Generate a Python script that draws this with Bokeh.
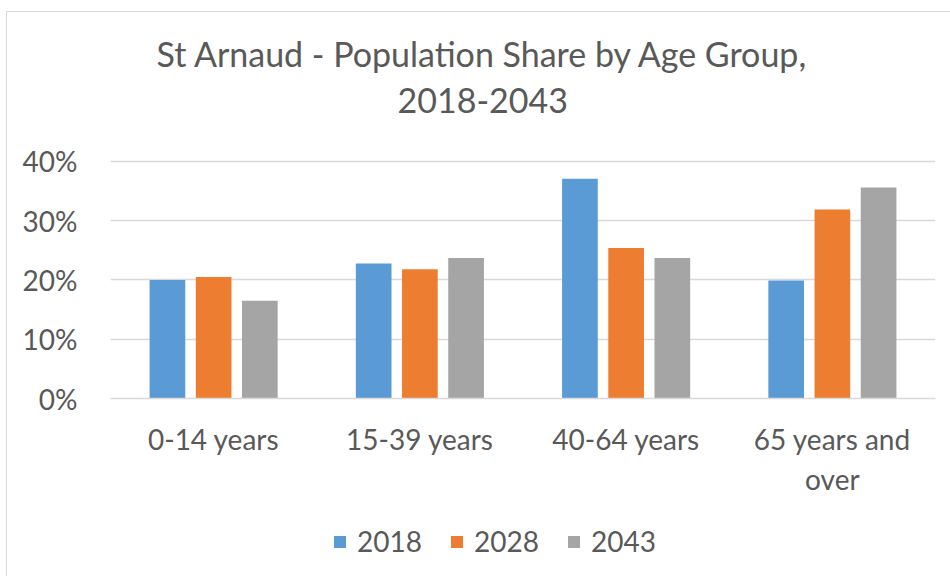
from bokeh.plotting import figure
from bokeh.layouts import column
from bokeh.models import (ColumnDataSource, Range1d, Legend, LegendItem, Title,
                          CategoricalAxis, NumeralTickFormatter, SingleIntervalTicker,
                          CustomJSTickFormatter)
from bokeh.transform import dodge
from bokeh.embed import file_html
from bokeh.resources import INLINE

# ---- data ----
categories = ["0-14 years", "15-39 years", "40-64 years", "65 years and over"]
wrapped_label = ["65 years and over", "65 years and", "over"]   # full, line 1, line 2
years = ["2018", "2028", "2043"]
share_2018 = [0.200, 0.228, 0.371, 0.199]
share_2028 = [0.205, 0.218, 0.254, 0.319]
share_2043 = [0.165, 0.237, 0.237, 0.356]
title_lines = ["St Arnaud - Population Share by Age Group,", "2018-2043"]

colors = ["#5B9BD5", "#ED7D31", "#A5A5A5"]
FONT = "Lato"
TXT = "#595959"
GRID = "#D9D9D9"

source = ColumnDataSource(dict(cat=categories, y2018=share_2018,
                               y2028=share_2028, y2043=share_2043))

# ---------------- main chart ----------------
p = figure(x_range=categories, y_range=Range1d(0, 0.4658),
           width=943, height=500, output_backend="svg", toolbar_location=None,
           min_border_left=103, min_border_right=15,
           min_border_top=110, min_border_bottom=114)
p.outline_line_color = None
p.background_fill_color = "white"
p.border_fill_color = "white"

for col, off, c in zip(["y2018", "y2028", "y2043"], [-0.224, 0.0, 0.224], colors):
    p.vbar(x=dodge("cat", off, range=p.x_range), top=col, width=0.173,
           source=source, fill_color=c, line_color=None)

p.yaxis.ticker = SingleIntervalTicker(interval=0.1)
p.yaxis.formatter = NumeralTickFormatter(format="0%")
p.yaxis.axis_line_color = None
p.yaxis.major_tick_line_color = None
p.yaxis.minor_tick_line_color = None
p.yaxis.major_label_standoff = 27
p.yaxis.major_label_text_font = FONT
p.yaxis.major_label_text_font_size = "28px"
p.yaxis.major_label_text_color = TXT

p.xaxis.axis_line_color = GRID
p.xaxis.axis_line_width = 1.5
p.xaxis.major_tick_line_color = None
p.xaxis.minor_tick_line_color = None
p.xaxis.major_label_standoff = 17
p.xaxis.major_label_text_font = FONT
p.xaxis.major_label_text_font_size = "28px"
p.xaxis.major_label_text_color = TXT
p.xaxis.formatter = CustomJSTickFormatter(
    args=dict(full=wrapped_label[0], first=wrapped_label[1]),
    code="return tick == full ? first : tick;")

# second line of the wrapped category label
ax2 = CategoricalAxis(axis_line_color=None, major_tick_line_color=None,
                      minor_tick_line_color=None, major_label_standoff=-3,
                      major_label_text_font=FONT, major_label_text_font_size="28px",
                      major_label_text_color=TXT,
                      formatter=CustomJSTickFormatter(
                          args=dict(full=wrapped_label[0], second=wrapped_label[2]),
                          code="return tick == full ? second : '';"))
p.add_layout(ax2, "below")

p.xgrid.grid_line_color = None
p.ygrid.grid_line_color = GRID
p.ygrid.grid_line_width = 1.5

# title: second line nearest to the plot, first line above it
p.add_layout(Title(text=title_lines[1], align="left", offset=287, standoff=20,
                   text_font=FONT, text_font_size="34px", text_font_style="normal",
                   text_color=TXT), "above")
p.title.text = title_lines[0]
p.title.align = "left"
p.title.offset = 46
p.title.standoff = 3
p.title.text_font = FONT
p.title.text_font_size = "34px"
p.title.text_font_style = "normal"
p.title.text_color = TXT

# ---------------- legend strip ----------------
lg = figure(width=943, height=64, output_backend="svg", toolbar_location=None,
            x_range=Range1d(0, 1), y_range=Range1d(0, 1),
            x_axis_location=None, y_axis_location=None,
            min_border_left=0, min_border_right=0, min_border_top=0, min_border_bottom=0)
lg.outline_line_color = None
lg.xgrid.grid_line_color = None
lg.ygrid.grid_line_color = None
lg.background_fill_color = "white"
lg.border_fill_color = "white"

items = []
for y, c in zip(years, colors):
    # zero-height proxy bar: draws nothing itself, only supplies the legend swatch
    r = lg.vbar(x=[0.5], top=[0], width=0, fill_color=c, line_color=None)
    items.append(LegendItem(label=y, renderers=[r]))

legend = Legend(items=items, orientation="horizontal", location=(222, 18),
                glyph_width=15, glyph_height=15, label_standoff=10, spacing=27,
                padding=0, margin=0, border_line_color=None,
                background_fill_alpha=0,
                label_text_font=FONT, label_text_font_size="28px",
                label_text_color=TXT)
lg.add_layout(legend, "center")

layout = column(p, lg, spacing=0)
layout.styles = {"margin-left": "6px", "margin-top": "11px",
                 "border-left": "1px solid #d9d9d9", "border-top": "1px solid #d9d9d9"}

open("out.html", "w").write(file_html(layout, INLINE))
